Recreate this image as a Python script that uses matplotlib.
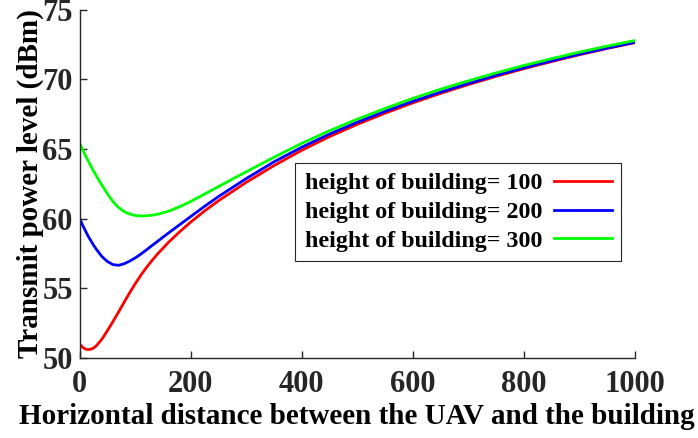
"""Transmit power level vs horizontal distance, for three building heights"""
import matplotlib
matplotlib.use("Agg")
import matplotlib.pyplot as plt

# horizontal distance between the UAV and the building
distance = [0, 5, 10, 15, 20, 25, 30, 40, 50, 60, 70, 80, 90, 100, 110,
            120, 130, 140, 160, 180, 200, 225, 250, 300, 350, 400, 450,
            500, 550, 600, 650, 700, 750, 800, 850, 900, 950, 1000]

# transmit power level (dBm) per building height
power_h100 = [51.0, 50.78, 50.65, 50.6, 50.63, 50.72, 50.88, 51.35, 51.97,
              52.62, 53.3, 54.0, 54.68, 55.33, 55.93, 56.48, 56.98, 57.45,
              58.3, 59.05, 59.75, 60.55, 61.28, 62.6, 63.8, 64.9, 65.88,
              66.76, 67.56, 68.3, 68.98, 69.61, 70.2, 70.75, 71.26, 71.75,
              72.2, 72.62]
power_h200 = [60.0, 59.55, 59.15, 58.76, 58.42, 58.09, 57.8, 57.28, 56.92,
              56.7, 56.65, 56.76, 56.95, 57.18, 57.45, 57.75, 58.06, 58.36,
              58.97, 59.56, 60.15, 60.88, 61.58, 62.87, 64.07, 65.12, 66.06,
              66.91, 67.69, 68.41, 69.07, 69.69, 70.27, 70.81, 71.31, 71.79,
              72.23, 72.64]
power_h300 = [65.4, 64.97, 64.55, 64.16, 63.78, 63.41, 63.06, 62.4, 61.78,
              61.22, 60.8, 60.5, 60.33, 60.23, 60.19, 60.2, 60.24, 60.31,
              60.53, 60.85, 61.23, 61.76, 62.3, 63.36, 64.4, 65.4, 66.3,
              67.13, 67.9, 68.62, 69.28, 69.88, 70.45, 70.98, 71.47, 71.94,
              72.37, 72.77]

labels = ["height of building= 100", "height of building= 200",
          "height of building= 300"]


def main():
    """Draw the three curves and save the figure"""
    plt.rcParams["font.family"] = ["Liberation Serif", "DejaVu Serif"]
    plt.rcParams["font.weight"] = "bold"

    fig = plt.figure(figsize=(6.98, 4.38), dpi=100)
    ax = fig.add_axes([0.1142, 0.1826, 0.795, 0.7957])

    ax.plot(distance, power_h100, color="#ff0000", lw=2, label=labels[0])
    ax.plot(distance, power_h200, color="#0000ff", lw=2, label=labels[1])
    ax.plot(distance, power_h300, color="#00ff00", lw=2, label=labels[2])

    ax.set_xlim(0, 1000)
    ax.set_ylim(50, 75)
    ax.set_xticks([0, 200, 400, 600, 800, 1000])
    ax.set_yticks([50, 55, 60, 65, 70, 75])

    for side in ["top", "right"]:
        ax.spines[side].set_visible(False)
    for side in ["left", "bottom"]:
        ax.spines[side].set_color("#262626")
        ax.spines[side].set_linewidth(1.0)
    ax.tick_params(direction="in", length=5, width=1, color="#262626",
                   labelcolor="#262626", labelsize=22)
    ax.tick_params(axis="x", pad=8.5)
    ax.tick_params(axis="y", pad=5)

    ax.set_xlabel("Horizontal distance between the UAV and the building",
                  fontsize=21, fontweight="bold", labelpad=3)
    ax.set_ylabel("Transmit power level (dBm)", fontsize=21,
                  fontweight="bold", labelpad=-1)

    leg = ax.legend(loc="upper left", bbox_to_anchor=(0.388, 0.5595),
                    borderaxespad=0, markerfirst=False, fancybox=False,
                    edgecolor="#262626", framealpha=1, fontsize=17.3,
                    handlelength=2.4, handletextpad=0.5, labelspacing=0.28,
                    borderpad=0.4)
    leg.get_frame().set_linewidth(0.8)

    fig.savefig("out.png", dpi=100)


main()
